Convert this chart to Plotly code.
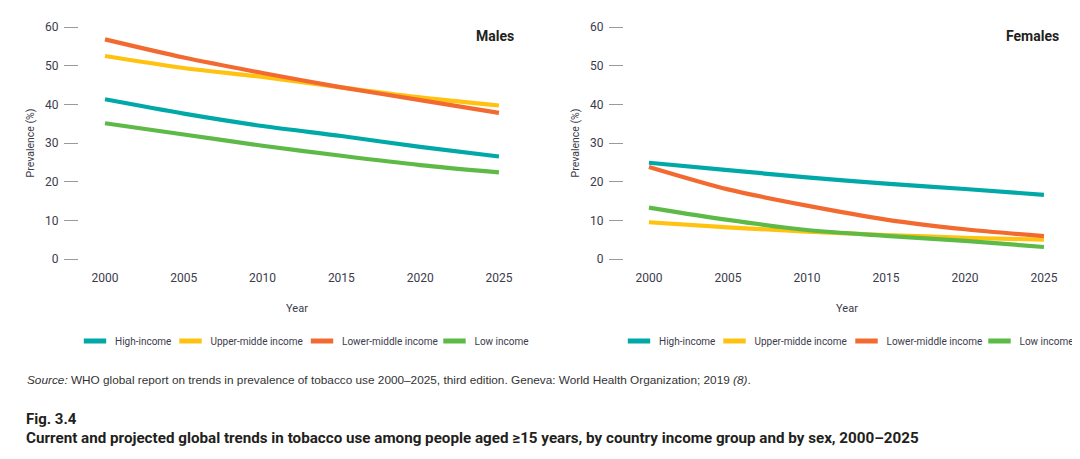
import plotly.graph_objects as go

years = [2000, 2005, 2010, 2015, 2020, 2025]
series_names = ["High-income", "Upper-midde income", "Lower-middle income", "Low income"]
colors = ["#00a9a7", "#ffc20e", "#f26a30", "#5dba46"]

males_high = [41.3, 37.6, 34.4, 31.8, 29.0, 26.5]
males_upper = [52.5, 49.4, 47.1, 44.4, 41.8, 39.7]
males_lower = [56.8, 52.1, 48.1, 44.4, 41.1, 37.8]
males_low = [35.1, 32.2, 29.3, 26.7, 24.3, 22.4]

females_high = [24.9, 23.0, 21.1, 19.5, 18.1, 16.6]
females_upper = [9.5, 8.2, 7.1, 6.2, 5.5, 5.0]
females_lower = [23.8, 18.0, 13.8, 10.2, 7.7, 5.9]
females_low = [13.3, 10.1, 7.5, 6.0, 4.7, 3.1]

y_ticks = [0, 10, 20, 30, 40, 50, 60]

males = [males_high, males_upper, males_lower, males_low]
females = [females_high, females_upper, females_lower, females_low]

W, H = 1080, 459
OFF = 8  # page body margin
COND = "Roboto, sans-serif"
TXT = "#3b3b4b"

def px(x):
    return (x - OFF) / W

def py(y):
    return 1 - (y - OFF) / H

# legend marker centres (pixels) for each panel
legend_centres = [[100, 195.5, 327, 459.5], [644, 739.5, 871.5, 1004.5]]

fig = go.Figure()

order = [1, 2, 0, 3]
lg_index = 1
legend_layout = {}
for panel, data, xa, ya in [(0, males, "x", "y"), (1, females, "x2", "y2")]:
    for i in order:
        fig.add_trace(go.Scatter(
            x=years, y=data[i], mode="lines",
            line=dict(color=colors[i], width=4.2, shape="spline", smoothing=0.8),
            xaxis=xa, yaxis=ya, showlegend=False, hoverinfo="skip"))
    for i in range(4):
        lname = "legend" if lg_index == 1 else f"legend{lg_index}"
        fig.add_trace(go.Scatter(
            x=[None], y=[None], mode="markers", name=series_names[i],
            marker=dict(symbol="line-ew-open", size=16, color=colors[i], line=dict(color=colors[i], width=6)),
            xaxis=xa, yaxis=ya, showlegend=True, legend=lname))
        legend_layout[lname] = dict(
            orientation="h", x=px(legend_centres[panel][i] - 25), y=py(341),
            xanchor="left", yanchor="middle",
            font=dict(family=COND, size=10, color=TXT), itemwidth=30,
            bgcolor="rgba(0,0,0,0)", borderwidth=0)
        lg_index += 1

y_dom = [py(259), py(27)]

common_x = dict(tickvals=years, ticks="", showline=False, showgrid=False, zeroline=False,
                ticklabelstandoff=10,
                tickfont=dict(family=COND, size=12, color=TXT),
                title=dict(text="Year", font=dict(family=COND, size=11, color=TXT), standoff=20))
common_y = dict(range=[0, 60], tickvals=y_ticks, ticks="outside", ticklen=14, tickwidth=1, tickcolor="#9a9a9a",
                showline=False, showgrid=False, zeroline=False, ticklabelstandoff=3,
                tickfont=dict(family=COND, size=12, color=TXT),
                title=dict(text="Prevalence (%)", font=dict(family=COND, size=10.5, color=TXT), standoff=8))

fig.update_layout(
    width=W, height=H,
    margin=dict(l=0, r=0, t=0, b=0, autoexpand=False),
    paper_bgcolor="white", plot_bgcolor="white",
    xaxis=dict(domain=[px(79), px(515)], range=[1998.35, 2026.02], anchor="y", **common_x),
    yaxis=dict(domain=y_dom, anchor="x", **common_y),
    xaxis2=dict(domain=[px(624), px(1070)], range=[1998.42, 2026.65], anchor="y2", **common_x),
    yaxis2=dict(domain=y_dom, anchor="x2", **common_y),
    showlegend=True,
    **legend_layout,
)

fig.add_annotation(text="<b>Males</b>", x=px(516), y=py(36), xref="paper", yref="paper",
                   xanchor="right", yanchor="middle", showarrow=False,
                   font=dict(family=COND, size=14, color="#231f20"))
fig.add_annotation(text="<b>Females</b>", x=px(1061), y=py(36), xref="paper", yref="paper",
                   xanchor="right", yanchor="middle", showarrow=False,
                   font=dict(family=COND, size=14, color="#231f20"))

fig.add_annotation(
    text="<i>Source:</i> WHO global report on trends in prevalence of tobacco use 2000–2025, third edition. Geneva: World Health Organization; 2019 <i>(8)</i>.",
    x=px(25), y=py(380), xref="paper", yref="paper", xanchor="left", yanchor="middle", showarrow=False,
    font=dict(family="Liberation Sans, Arial, sans-serif", size=11.8, color="#333333"))
fig.add_annotation(text="<b>Fig. 3.4</b>", x=px(24), y=py(419), xref="paper", yref="paper",
                   xanchor="left", yanchor="middle", showarrow=False,
                   font=dict(family=COND, size=15, color="#231f20"))
fig.add_annotation(
    text="<b>Current and projected global trends in tobacco use among people aged ≥15 years, by country income group and by sex, 2000–2025</b>",
    x=px(24), y=py(438), xref="paper", yref="paper", xanchor="left", yanchor="middle", showarrow=False,
    font=dict(family=COND, size=15.2, color="#231f20"))

fig.write_html("out.html")
